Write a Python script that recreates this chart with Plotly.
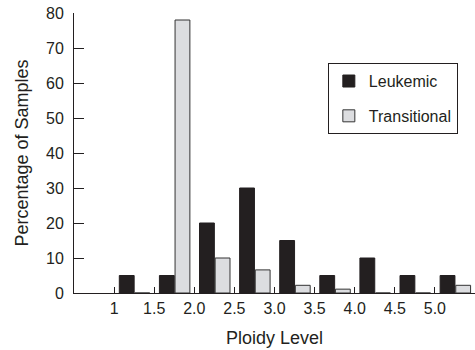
import plotly.graph_objects as go

bins = [1.0, 1.5, 2.0, 2.5, 3.0, 3.5, 4.0, 4.5, 5.0]
leukemic = [5, 5, 20, 30, 15, 5, 10, 5, 5]
transitional = [0, 78, 10, 6.6, 2.2, 1.1, 0, 0, 2.2]
tick_vals = [1.0, 1.5, 2.0, 2.5, 3.0, 3.5, 4.0, 4.5, 5.0]
tick_text = ["1", "1.5", "2.0", "2.5", "3.0", "3.5", "4.0", "4.5", "5.0"]
y_ticks = [0, 10, 20, 30, 40, 50, 60, 70, 80]

FONT = "Liberation Sans, Arial, Helvetica, sans-serif"
INK = "#231f20"

fig = go.Figure()
fig.add_trace(go.Bar(
    x=bins, y=leukemic, name="Leukemic", legendgroup="a",
    offset=0.065, width=0.185,
    marker=dict(color=INK, line=dict(color=INK, width=1)),
))
fig.add_trace(go.Bar(
    x=bins, y=transitional, name="Transitional", legendgroup="b",
    offset=0.26, width=0.185,
    marker=dict(color="#dcdde0", line=dict(color="#333333", width=1)),
))

fig.update_layout(
    width=475, height=350,
    margin=dict(l=74, r=0, t=13, b=57),
    paper_bgcolor="white", plot_bgcolor="white",
    font=dict(family=FONT, size=16, color=INK),
    barmode="overlay",
    showlegend=True,
    legend=dict(
        x=0.633, y=0.821, xanchor="left", yanchor="top",
        bordercolor=INK, borderwidth=1,
        font=dict(size=16),
        itemwidth=30,
        tracegroupgap=11,
        traceorder="grouped",
    ),
    xaxis=dict(
        range=[0.5, 5.5],
        tickvals=tick_vals, ticktext=tick_text,
        ticks="inside", ticklen=6, tickcolor=INK, tickwidth=1,
        showline=True, linecolor=INK, linewidth=1,
        showgrid=False, zeroline=False,
        ticklabelstandoff=1,
        automargin=False,
        tickfont=dict(size=16),
        title=dict(text="Ploidy Level", font=dict(size=18), standoff=15),
    ),
    yaxis=dict(
        range=[0, 80],
        tickvals=y_ticks,
        ticks="inside", ticklen=10, tickcolor=INK, tickwidth=1,
        showline=True, linecolor=INK, linewidth=1,
        showgrid=False, zeroline=False,
        ticklabelstandoff=6,
        automargin=False,
        tickfont=dict(size=16),
        title=dict(text="Percentage of Samples", font=dict(size=18), standoff=12),
    ),
)

fig.write_html(
    "out.html",
    config={"displayModeBar": False},
    post_script="document.body.style.margin='0';",
)
